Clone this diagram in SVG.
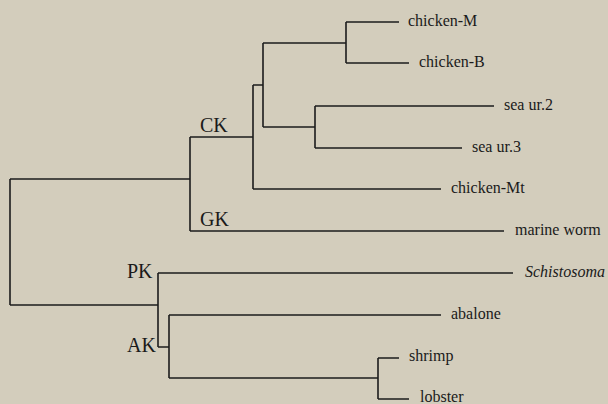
<svg xmlns="http://www.w3.org/2000/svg" width="608" height="404" viewBox="0 0 608 404">
<style>
.bg{fill:#d3cdbc}
.e{fill:none;stroke:#1c1c1c;stroke-width:1.6}
.t{font-family:"Liberation Serif","Times New Roman",serif;font-size:16px;fill:#1a1a1a}
.n{font-family:"Liberation Serif","Times New Roman",serif;font-size:20px;fill:#1a1a1a}
.i{font-style:italic}
</style>
<rect class="bg" x="0" y="0" width="608" height="404"/>
<g id="connectors">
<path class="e" d="M10,179 V305 M10,179 H190 M10,305 H158"/>
<path class="e" d="M190,137 V231 M190,137 H253 M190,231 H504"/>
<path class="e" d="M253,85 V189 M253,85 H263 M253,189 H441"/>
<path class="e" d="M263,43 V127 M263,43 H346 M263,127 H315"/>
<path class="e" d="M346,22 V63 M346,22 H399 M346,63 H409"/>
<path class="e" d="M315,106 V148 M315,106 H494 M315,148 H462"/>
<path class="e" d="M158,273 V347 M158,273 H513 M158,347 H169"/>
<path class="e" d="M169,315 V378 M169,315 H441 M169,378 H378"/>
<path class="e" d="M378,358 V399 M378,358 H399 M378,399 H409"/>
</g>
<g id="CK"><text class="n" x="200" y="132">CK</text></g>
<g id="GK"><text class="n" x="200" y="226">GK</text></g>
<g id="PK"><text class="n" x="127" y="278">PK</text></g>
<g id="AK"><text class="n" x="127" y="352">AK</text></g>
<g id="chicken-M"><text class="t" x="408" y="26">chicken-M</text></g>
<g id="chicken-B"><text class="t" x="419" y="67">chicken-B</text></g>
<g id="sea-ur2"><text class="t" x="504" y="110">sea ur.2</text></g>
<g id="sea-ur3"><text class="t" x="472" y="152">sea ur.3</text></g>
<g id="chicken-Mt"><text class="t" x="451" y="193">chicken-Mt</text></g>
<g id="marine-worm"><text class="t" x="515" y="235">marine worm</text></g>
<g id="schistosoma"><text class="t i" x="525" y="277">Schistosoma</text></g>
<g id="abalone"><text class="t" x="451" y="319">abalone</text></g>
<g id="shrimp"><text class="t" x="409" y="361">shrimp</text></g>
<g id="lobster"><text class="t" x="420" y="402">lobster</text></g>
</svg>
